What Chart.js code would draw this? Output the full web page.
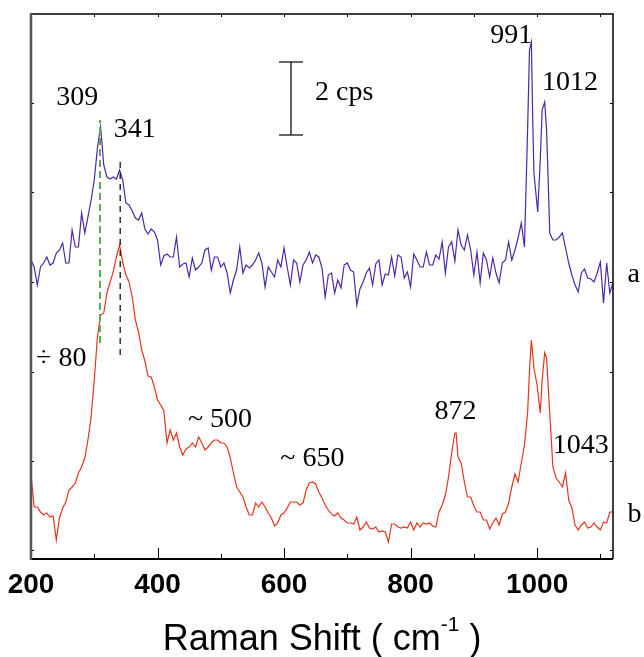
<!DOCTYPE html>
<html>
<head>
<meta charset="utf-8">
<script src="https://cdn.jsdelivr.net/npm/chart.js@4.4.1/dist/chart.umd.min.js"></script>
<style>
  html, body { margin: 0; padding: 0; background: #fff; }
  #wrap { width: 644px; height: 657px; position: relative; }
</style>
</head>
<body>
<div id="wrap"><canvas id="chart"></canvas></div>
<script>
// --- spectra (Raman shift in cm-1, intensity in plot units) ---
const shiftA = [200,205,210,215,220,225,230,235,240,245,250,255,260,265,270,275,280,285,290,295,
  300,305,310,315,320,325,330,335,340,345,350,355,360,365,370,375,380,385,390,395,
  400,405,410,415,420,425,430,435,440,445,450,455,460,465,470,475,480,485,490,495,
  500,505,510,515,520,525,530,535,540,545,550,555,560,565,570,575,580,585,590,595,
  600,605,610,615,620,625,630,635,640,645,650,655,660,665,670,675,680,685,690,695,
  700,705,710,715,720,725,730,735,740,745,750,755,760,765,770,775,780,785,790,795,
  800,805,810,815,820,825,830,835,840,845,850,855,860,865,870,875,880,885,890,895,
  900,905,910,915,920,925,930,935,940,945,950,955,960,965,970,975,980,985,988,991,
  993,995,1001,1005,1008,1012,1015,1018,1020,1025,1030,1035,1040,1045,1050,1055,1060,1065,1070,1075,1080,
  1085,1090,1095,1100,1105,1110,1115,1120];
const intensityA = [299,292,274,292,296,302,294,296,306,309,316,296,296,329,312,312,346,326,342,359,
  379,411,432,394,382,380,382,380,389,379,356,354,348,341,339,346,330,325,330,327,
  319,294,303,305,302,302,322,292,295,296,282,301,289,292,296,309,311,289,302,302,
  292,296,286,266,279,289,312,286,294,291,294,299,306,296,272,292,287,282,299,292,
  311,292,274,299,296,277,294,299,307,296,304,302,291,262,284,286,266,279,271,294,
  296,289,287,254,270,277,286,291,274,295,299,274,285,284,302,283,304,302,281,287,
  272,305,299,292,292,307,294,294,304,300,317,286,312,317,298,329,314,309,324,309,
  284,307,276,306,299,282,301,286,276,296,299,317,299,309,321,336,312,429,509,517,
  442,386,347,399,449,457,429,369,326,319,319,322,326,311,296,284,274,267,286,290,281,
  280,277,286,297,256,296,266,276];

const shiftB = [200,205,210,215,220,225,230,235,240,245,250,255,260,265,270,275,280,285,290,295,
  300,305,310,315,320,325,330,335,340,345,350,355,360,365,370,375,380,385,390,395,
  400,405,410,415,420,425,430,435,440,445,450,455,460,465,470,475,480,485,490,495,
  500,505,510,515,520,525,530,535,540,545,550,555,560,565,570,575,580,585,590,595,
  600,605,610,615,620,625,630,635,640,645,650,655,660,665,670,675,680,685,690,695,
  700,705,710,715,720,725,730,735,740,745,750,755,760,765,770,775,780,785,790,795,
  800,805,810,815,820,825,830,835,840,845,850,855,860,865,870,872,875,880,885,890,
  895,900,905,910,915,920,925,930,935,940,945,950,955,960,965,970,975,980,985,988,
  991,995,1000,1003,1005,1008,1012,1015,1020,1025,1030,1035,1040,1045,1050,1055,1060,1065,1070,1075,
  1080,1085,1090,1095,1100,1105,1110,1115,1120];
const intensityB = [84,52,52,47,44,46,42,43,19,41,51,57,69,72,76,86,92,101,119,142,
  179,222,244,246,266,277,287,302,314,297,284,277,262,239,227,209,198,183,182,172,
  159,154,148,116,129,119,126,112,104,110,112,116,112,122,116,109,112,116,119,119,
  116,116,112,101,86,72,67,62,52,44,44,56,52,57,52,46,41,33,36,44,
  46,51,57,57,57,54,56,69,76,77,75,67,61,54,49,45,43,46,41,39,
  36,36,35,42,29,32,37,31,30,32,27,28,27,17,35,35,32,31,32,31,
  37,29,36,32,36,35,36,33,32,47,54,64,82,106,126,126,102,96,77,62,
  62,53,47,47,39,39,30,36,41,34,45,47,56,72,85,77,96,114,146,189,
  219,191,174,157,146,179,206,201,146,92,81,77,72,86,59,51,34,29,34,37,
  31,32,36,32,29,37,36,47,47];

// --- axes ---
const xMin = 200, xMax = 1120;
const yMin = 0, yMax = 545;
const xTicksMajor = [200, 400, 600, 800, 1000];
const xTicksMinor = [300, 500, 700, 900, 1100];
const yTicks = [9, 98, 187.5, 277, 367, 456];
const xTitle = "Raman Shift ( cm";
const xTitleSup = "-1";

// --- peak markers and scale bar ---
const peakShifts = [309, 341];
const peakLineFrom = [216, 204];
const peakLineTo = [439, 397];
const scaleBarShift = 611;
const scaleBarHalfWidth = 19;
const scaleBarBase = 424;
const cpsUnit = 36.5;      // plot units per cps
const scaleBarCps = 2;

// --- text labels (anchored in data coords) ---
const labelTexts = ["309", "341", "2 cps", "991", "1012", "\u00f7 80", "~ 500", "~ 650", "872", "1043", "a", "b"];
const labelShift = [273, 364, 649, 959, 1052, 208, 448, 594, 871, 1069, 1143, 1143];
const labelLevel = [454, 422, 459, 516, 469, 193, 132, 93, 140, 106, 277, 37];
const labelAlign = ["center", "center", "left", "center", "center", "left", "left", "left", "center", "center", "left", "left"];

const toXY = (xs, ys) => xs.map((x, i) => ({ x, y: ys[i] }));

// frame, inward ticks, tick labels, title and annotations
const framePlugin = {
  id: "frame",
  afterDatasetsDraw(chart) {
    const { ctx, chartArea: a, scales: { x, y } } = chart;
    ctx.save();

    ctx.strokeStyle = "#000";
    ctx.lineWidth = 1;
    ctx.beginPath();
    xTicksMajor.forEach(v => {
      const px = Math.round(x.getPixelForValue(v)) + 0.5;
      ctx.moveTo(px, a.bottom); ctx.lineTo(px, a.bottom - 11);
      ctx.moveTo(px, a.top); ctx.lineTo(px, a.top + 3);
    });
    xTicksMinor.forEach(v => {
      const px = Math.round(x.getPixelForValue(v)) + 0.5;
      ctx.moveTo(px, a.bottom); ctx.lineTo(px, a.bottom - 5);
      ctx.moveTo(px, a.top); ctx.lineTo(px, a.top + 3);
    });
    yTicks.forEach(v => {
      const py = Math.round(y.getPixelForValue(v)) + 0.5;
      ctx.moveTo(a.left, py); ctx.lineTo(a.left + 3, py);
      ctx.moveTo(a.right, py); ctx.lineTo(a.right - 3, py);
    });
    ctx.stroke();

    ctx.lineWidth = 1.5;
    ctx.beginPath();
    ctx.moveTo(a.left, a.top); ctx.lineTo(a.right, a.top);
    ctx.lineTo(a.right, a.bottom);
    ctx.stroke();
    ctx.lineWidth = 2;
    ctx.beginPath();
    ctx.moveTo(a.right, a.bottom); ctx.lineTo(a.left, a.bottom);
    ctx.stroke();
    ctx.strokeStyle = "#555";
    ctx.lineWidth = 2.5;
    ctx.beginPath();
    ctx.moveTo(a.left, a.top - 1); ctx.lineTo(a.left, a.bottom + 1);
    ctx.stroke();

    // tick labels
    ctx.fillStyle = "#000";
    ctx.font = "bold 28px 'Liberation Sans', Arial, sans-serif";
    ctx.textAlign = "center";
    ctx.textBaseline = "alphabetic";
    xTicksMajor.forEach(v => ctx.fillText(String(v), x.getPixelForValue(v), a.bottom + 34));

    // axis title with superscript
    const big = "36px 'Liberation Sans', Arial, sans-serif";
    const small = "21px 'Liberation Sans', Arial, sans-serif";
    ctx.font = big;
    const w1 = ctx.measureText(xTitle).width;
    const w3 = ctx.measureText(" )").width;
    ctx.font = small;
    const w2 = ctx.measureText(xTitleSup).width;
    let tx = (a.left + a.right) / 2 - (w1 + w2 + w3) / 2;
    const ty = a.bottom + 91;
    ctx.textAlign = "left";
    ctx.font = big;
    ctx.fillText(xTitle, tx, ty);
    ctx.font = small;
    ctx.fillText(xTitleSup, tx + w1, ty - 19);
    ctx.font = big;
    ctx.fillText(" )", tx + w1 + w2, ty);

    // annotations
    ctx.font = "28px 'Liberation Serif', 'Times New Roman', serif";
    labelTexts.forEach((t, i) => {
      ctx.textAlign = labelAlign[i];
      ctx.fillText(t, x.getPixelForValue(labelShift[i]), y.getPixelForValue(labelLevel[i]));
    });
    ctx.restore();
  }
};

const ctx = document.getElementById("chart").getContext("2d");
const lineStyle = { pointRadius: 0, pointHoverRadius: 0, tension: 0, fill: false };

new Chart(ctx, {
  type: "line",
  data: {
    datasets: [
      { ...lineStyle, label: "309", data: [{ x: peakShifts[0], y: peakLineFrom[0] }, { x: peakShifts[0], y: peakLineTo[0] }],
        borderColor: "#5aad4e", borderWidth: 2, borderDash: [7, 4] },
      { ...lineStyle, label: "341", data: [{ x: peakShifts[1], y: peakLineFrom[1] }, { x: peakShifts[1], y: peakLineTo[1] }],
        borderColor: "#111", borderWidth: 1.3, borderDash: [6, 5] },
      { ...lineStyle, label: "bar", data: [{ x: scaleBarShift, y: scaleBarBase }, { x: scaleBarShift, y: scaleBarBase + scaleBarCps * cpsUnit }],
        borderColor: "#000", borderWidth: 1.2 },
      { ...lineStyle, label: "bar top", data: [{ x: scaleBarShift - scaleBarHalfWidth, y: scaleBarBase + scaleBarCps * cpsUnit }, { x: scaleBarShift + scaleBarHalfWidth, y: scaleBarBase + scaleBarCps * cpsUnit }],
        borderColor: "#000", borderWidth: 1.2 },
      { ...lineStyle, label: "bar bottom", data: [{ x: scaleBarShift - scaleBarHalfWidth, y: scaleBarBase }, { x: scaleBarShift + scaleBarHalfWidth, y: scaleBarBase }],
        borderColor: "#000", borderWidth: 1.2 },
      { ...lineStyle, label: "a", data: toXY(shiftA, intensityA), borderColor: "#4b28a8", borderWidth: 1.2 },
      { ...lineStyle, label: "b", data: toXY(shiftB, intensityB), borderColor: "#e8341c", borderWidth: 1.2 }
    ]
  },
  options: {
    responsive: true,
    maintainAspectRatio: false,
    animation: false,
    events: [],
    layout: { padding: { left: 31, top: 14, right: 31, bottom: 98 } },
    plugins: { legend: { display: false }, tooltip: { enabled: false } },
    scales: {
      x: { type: "linear", min: xMin, max: xMax, display: false },
      y: { type: "linear", min: yMin, max: yMax, display: false }
    }
  },
  plugins: [framePlugin]
});
</script>
</body>
</html>
